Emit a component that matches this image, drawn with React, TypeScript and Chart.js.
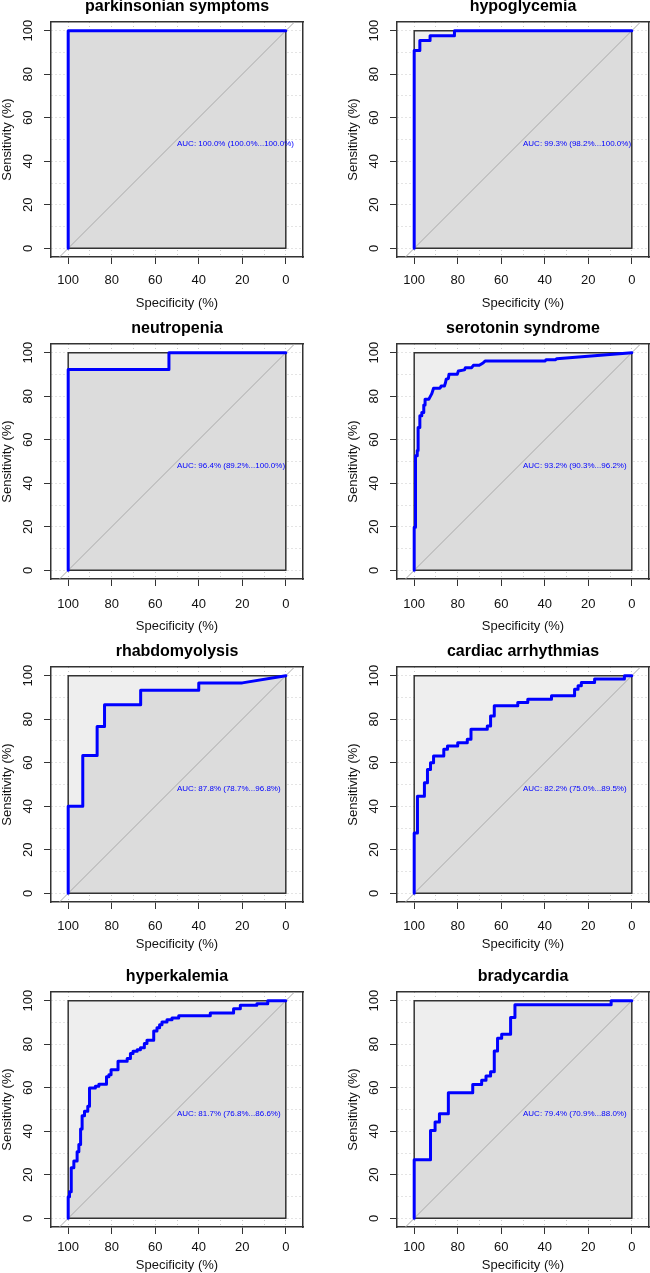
import React, { useEffect, useRef } from 'react';
import { Chart, registerables } from 'chart.js';

Chart.register(...registerables);

// ---------------- data ----------------
const TITLES = [
  'parkinsonian symptoms',
  'hypoglycemia',
  'neutropenia',
  'serotonin syndrome',
  'rhabdomyolysis',
  'cardiac arrhythmias',
  'hyperkalemia',
  'bradycardia',
];

const AUC_VALUES = [100.0, 99.3, 96.4, 93.2, 87.8, 82.2, 81.7, 79.4];
const AUC_CI_LOW = [100.0, 98.2, 89.2, 90.3, 78.7, 75.0, 76.8, 70.9];
const AUC_CI_HIGH = [100.0, 100.0, 100.0, 96.2, 96.8, 89.5, 86.6, 88.0];

const PARKINSONIAN_SPEC = [100, 100, 0];
const PARKINSONIAN_SENS = [0, 100, 100];

const HYPOGLYCEMIA_SPEC = [100, 100, 97.4, 97.4, 92.7, 92.7, 81.5, 81.5, 0];
const HYPOGLYCEMIA_SENS = [0, 90.9, 90.9, 95.5, 95.5, 97.7, 97.7, 100, 100];

const NEUTROPENIA_SPEC = [100, 100, 53.7, 53.7, 0];
const NEUTROPENIA_SENS = [0, 92.3, 92.3, 100, 100];

const SEROTONIN_SPEC = [
  100, 100, 99.4, 99.4, 98.6, 98.6, 98.2, 98.2, 97.4, 97.4,
  96.5, 96.5, 95.6, 95.6, 95.0, 95.0, 93.3, 92.7, 91.9, 91.1,
  88.1, 87.6, 86.1, 85.6, 85.3, 84.3, 84.0, 80.2, 79.7, 76.9,
  76.5, 73.6, 72.8, 70.1, 69.3, 68.2, 67.3, 39.8, 39.4, 35.0,
  34.5, 0,
];
const SEROTONIN_SENS = [
  0, 19.8, 19.8, 52.7, 52.7, 55.0, 55.0, 65.6, 65.6, 71.0,
  71.0, 72.5, 72.5, 76.0, 76.0, 78.6, 78.6, 79.7, 81.2, 83.7,
  83.7, 84.7, 84.7, 86.3, 87.8, 88.1, 90.1, 90.1, 91.6, 92.1,
  93.1, 93.1, 94.2, 94.2, 94.7, 95.4, 96.2, 96.2, 96.8, 96.8,
  97.2, 100,
];

const RHABDO_SPEC = [100, 100, 93.3, 93.3, 86.7, 86.7, 83.3, 83.3, 66.7, 66.7, 40.0, 40.0, 20.0, 0];
const RHABDO_SENS = [0, 40.0, 40.0, 63.3, 63.3, 76.7, 76.7, 86.7, 86.7, 93.3, 93.3, 96.7, 96.7, 100];

const CARDIAC_SPEC = [
  100, 100, 98.5, 98.5, 95.3, 95.3, 93.9, 93.9, 92.5, 92.5,
  91.1, 91.1, 86.4, 86.4, 84.7, 84.7, 80.0, 80.0, 75.6, 75.6,
  73.9, 73.9, 66.4, 66.4, 64.9, 64.9, 63.2, 63.2, 52.4, 52.4,
  47.8, 47.8, 36.9, 36.9, 26.3, 26.3, 24.7, 24.7, 23.2, 23.2,
  17.1, 17.1, 3.4, 3.4, 0,
];
const CARDIAC_SENS = [
  0, 27.7, 27.7, 44.6, 44.6, 50.8, 50.8, 56.9, 56.9, 60.0,
  60.0, 63.1, 63.1, 66.2, 66.2, 67.7, 67.7, 69.2, 69.2, 70.8,
  70.8, 75.4, 75.4, 76.9, 76.9, 81.5, 81.5, 86.2, 86.2, 87.7,
  87.7, 89.2, 89.2, 90.8, 90.8, 93.8, 93.8, 95.4, 95.4, 96.9,
  96.9, 98.5, 98.5, 100, 100,
];

const HYPERKALEMIA_SPEC = [
  100, 100, 99.4, 99.4, 98.6, 98.6, 97.4, 97.4, 95.9, 95.9,
  95.1, 95.1, 94.3, 94.3, 93.6, 93.6, 92.5, 92.5, 91.0, 91.0,
  90.2, 90.2, 87.5, 87.5, 85.9, 85.9, 82.4, 82.4, 81.3, 81.3,
  80.3, 80.3, 77.1, 77.1, 72.9, 72.9, 71.4, 71.4, 70.2, 70.2,
  68.3, 68.3, 66.8, 66.8, 65.0, 65.0, 63.8, 63.8, 60.7, 60.7,
  59.2, 59.2, 58.0, 58.0, 56.9, 56.9, 54.6, 54.6, 52.3, 52.3,
  49.2, 49.2, 34.7, 34.7, 24.0, 24.0, 20.9, 20.9, 13.3, 13.3,
  8.3, 8.3, 0,
];
const HYPERKALEMIA_SENS = [
  0, 9.9, 9.9, 12.2, 12.2, 23.2, 23.2, 26.3, 26.3, 30.6,
  30.6, 33.9, 33.9, 41.0, 41.0, 47.1, 47.1, 49.2, 49.2, 51.5,
  51.5, 59.9, 59.9, 60.7, 60.7, 61.6, 61.6, 65.0, 65.0, 66.0,
  66.0, 68.3, 68.3, 72.2, 72.2, 73.4, 73.4, 75.7, 75.7, 76.8,
  76.8, 77.5, 77.5, 78.4, 78.4, 80.3, 80.3, 81.8, 81.8, 86.1,
  86.1, 87.6, 87.6, 89.0, 89.0, 90.2, 90.2, 91.3, 91.3, 92.0,
  92.0, 93.1, 93.1, 94.3, 94.3, 96.3, 96.3, 97.9, 97.9, 98.6,
  98.6, 100, 100,
];

const BRADYCARDIA_SPEC = [
  100, 100, 92.5, 92.5, 90.4, 90.4, 88.4, 88.4, 84.3, 84.3,
  73.1, 73.1, 69.0, 69.0, 67.0, 67.0, 64.9, 64.9, 63.2, 63.2,
  61.7, 61.7, 59.8, 59.8, 55.7, 55.7, 53.7, 53.7, 9.5, 9.5, 0,
];
const BRADYCARDIA_SENS = [
  0, 26.9, 26.9, 40.4, 40.4, 44.2, 44.2, 48.1, 48.1, 57.7,
  57.7, 61.5, 61.5, 63.5, 63.5, 65.4, 65.4, 67.3, 67.3, 76.9,
  76.9, 82.7, 82.7, 84.6, 84.6, 92.3, 92.3, 98.1, 98.1, 100, 100,
];

const SPECS = [
  PARKINSONIAN_SPEC, HYPOGLYCEMIA_SPEC, NEUTROPENIA_SPEC, SEROTONIN_SPEC,
  RHABDO_SPEC, CARDIAC_SPEC, HYPERKALEMIA_SPEC, BRADYCARDIA_SPEC,
];
const SENSES = [
  PARKINSONIAN_SENS, HYPOGLYCEMIA_SENS, NEUTROPENIA_SENS, SEROTONIN_SENS,
  RHABDO_SENS, CARDIAC_SENS, HYPERKALEMIA_SENS, BRADYCARDIA_SENS,
];

const AXIS_TICKS = [0, 10, 20, 30, 40, 50, 60, 70, 80, 90, 100];
const LABELED_TICKS = [0, 20, 40, 60, 80, 100];

// reference shapes
const BOX_SPEC = [100, 100, 0, 0, 100];
const BOX_SENS = [0, 100, 100, 0, 0];
const MAX_AUC_SPEC = [100, 0];
const MAX_AUC_SENS = [100, 100];
const IDENTITY_SPEC = [112, -12];
const IDENTITY_SENS = [-12, 112];
const AUC_LABEL_AT = 50;

// ---------------- style / layout ----------------
const X_MIN = -7.9;
const X_MAX = 107.9;
const Y_MIN = -4;
const Y_MAX = 104;

const FONT = '"Liberation Sans", Arial, Helvetica, sans-serif';
const BLUE = '#0000ff';
const FRAME_COLOR = '#333333';
const GRID_COLOR = '#c8c8c8';

const FRAME_W = 252;
const FRAME_H = 235;
const SIDE = 60;
const TOP = 30;
const BOTTOM = 60;
const TITLE_LINE = 16 * 1.2;

const COL_FRAME_LEFT = [51, 397];
const ROW_LAYOUT = [
  { frameTop: 22, titlePad: 5.0, tickPad: 8.2, xTitlePad: 5.9 },
  { frameTop: 344, titlePad: 5.4, tickPad: 10.2, xTitlePad: 4.9 },
  { frameTop: 667, titlePad: 5.1, tickPad: 9.2, xTitlePad: 9.9 },
  { frameTop: 992, titlePad: 5.0, tickPad: 5.5, xTitlePad: 13.5 },
];

const pct = (v: number) => v.toFixed(1) + '%';

const aucLabelPlugin = {
  id: 'aucLabel',
  afterDatasetsDraw(chart: any, _args: any, opts: any) {
    const { ctx, scales } = chart;
    const x = scales.x.getPixelForValue(AUC_LABEL_AT);
    const y = scales.y.getPixelForValue(AUC_LABEL_AT);
    ctx.save();
    ctx.font = `8px ${FONT}`;
    ctx.fillStyle = BLUE;
    ctx.textAlign = 'left';
    ctx.textBaseline = 'top';
    ctx.fillText(opts.text, x, y);
    ctx.restore();
  },
};

function toPoints(xs: number[], ys: number[]) {
  return xs.map((x, i) => ({ x, y: ys[i] }));
}

function RocPanel({ index }: { index: number }) {
  const ref = useRef<HTMLCanvasElement>(null);
  const col = index % 2;
  const row = Math.floor(index / 2);
  const lay = ROW_LAYOUT[row];
  const left = COL_FRAME_LEFT[col] - SIDE;
  const top = lay.frameTop - TOP;
  const W = FRAME_W + 2 * SIDE;
  const H = TOP + FRAME_H + BOTTOM;

  useEffect(() => {
    const roc = toPoints(SPECS[index], SENSES[index]);
    const tickColor = (c: any) =>
      c.tick && LABELED_TICKS.includes(c.tick.value) ? FRAME_COLOR : 'rgba(0,0,0,0)';
    const labelCb = (v: any) => (LABELED_TICKS.includes(Number(v)) ? String(v) : '');
    const setTicks = (s: any) => {
      s.ticks = AXIS_TICKS.map((v) => ({ value: v }));
    };
    const common = {
      type: 'linear',
      grid: {
        color: GRID_COLOR,
        lineWidth: 1,
        drawTicks: true,
        tickLength: 7,
        tickWidth: 1,
        tickColor,
        tickBorderDash: [],
        borderDash: [1, 3],
      },
      border: { display: true, color: FRAME_COLOR, width: 1.5, dash: [1, 3] },
    };
    const hidden = {
      type: 'linear',
      grid: { display: false, drawTicks: false },
      ticks: { display: false },
      border: { display: true, color: FRAME_COLOR, width: 1.5 },
    };

    const chart = new Chart(ref.current as HTMLCanvasElement, {
      type: 'line',
      data: {
        datasets: [
          {
            label: 'roc',
            data: roc,
            borderColor: BLUE,
            borderWidth: 3,
            borderJoinStyle: 'round',
            borderCapStyle: 'round',
            fill: false,
            order: 1,
            xAxisID: 'x',
            yAxisID: 'y',
          },
          {
            label: 'identity',
            data: toPoints(IDENTITY_SPEC, IDENTITY_SENS),
            borderColor: '#a9a9a9',
            borderWidth: 1,
            fill: false,
            order: 2,
            xAxisID: 'x',
            yAxisID: 'y',
          },
          {
            label: 'box',
            data: toPoints(BOX_SPEC, BOX_SENS),
            borderColor: FRAME_COLOR,
            borderWidth: 1.5,
            fill: false,
            order: 3,
            xAxisID: 'x',
            yAxisID: 'y',
          },
          {
            label: 'auc',
            data: roc,
            borderColor: 'rgba(0,0,0,0)',
            borderWidth: 0,
            backgroundColor: '#dcdcdc',
            fill: 'origin',
            order: 4,
            xAxisID: 'x',
            yAxisID: 'y',
          },
          {
            label: 'maxauc',
            data: toPoints(MAX_AUC_SPEC, MAX_AUC_SENS),
            borderColor: 'rgba(0,0,0,0)',
            borderWidth: 0,
            backgroundColor: '#eeeeee',
            fill: 'origin',
            order: 5,
            xAxisID: 'x',
            yAxisID: 'y',
          },
        ],
      },
      options: {
        animation: false,
        responsive: false,
        devicePixelRatio: 1,
        events: [],
        layout: { padding: 0 },
        elements: { point: { radius: 0, hitRadius: 0 }, line: { tension: 0 } },
        plugins: {
          legend: { display: false },
          tooltip: { enabled: false },
          title: {
            display: true,
            text: TITLES[index],
            color: '#000',
            font: { family: FONT, size: 16, weight: 'bold', lineHeight: 1.2 },
            padding: { top: lay.titlePad, bottom: TOP - TITLE_LINE - lay.titlePad },
          },
          aucLabel: {
            text: `AUC: ${pct(AUC_VALUES[index])} (${pct(AUC_CI_LOW[index])}...${pct(AUC_CI_HIGH[index])})`,
          },
        },
        scales: {
          x: {
            ...common,
            position: 'bottom',
            reverse: true,
            min: X_MIN,
            max: X_MAX,
            afterBuildTicks: setTicks,
            afterFit: (s: any) => {
              s.height = BOTTOM;
            },
            ticks: {
              autoSkip: false,
              minRotation: 0,
              maxRotation: 0,
              padding: lay.tickPad,
              color: '#111',
              font: { family: FONT, size: 13 },
              callback: labelCb,
            },
            title: {
              display: true,
              text: 'Specificity (%)',
              color: '#111',
              font: { family: FONT, size: 13 },
              padding: { top: 0, bottom: lay.xTitlePad },
            },
          },
          y: {
            ...common,
            position: 'left',
            min: Y_MIN,
            max: Y_MAX,
            afterBuildTicks: setTicks,
            afterFit: (s: any) => {
              s.width = SIDE;
            },
            ticks: {
              autoSkip: false,
              minRotation: 90,
              maxRotation: 90,
              crossAlign: 'center',
              padding: 4.6,
              color: '#111',
              font: { family: FONT, size: 13 },
              callback: labelCb,
            },
            title: {
              display: true,
              text: 'Sensitivity (%)',
              color: '#111',
              font: { family: FONT, size: 13 },
              padding: { top: 8.2, bottom: 0 },
            },
          },
          x2: {
            ...hidden,
            position: 'top',
            reverse: true,
            min: X_MIN,
            max: X_MAX,
            afterFit: (s: any) => {
              s.height = 0;
            },
          },
          y2: {
            ...hidden,
            position: 'right',
            min: Y_MIN,
            max: Y_MAX,
            afterFit: (s: any) => {
              s.width = SIDE;
            },
          },
        },
      } as any,
      plugins: [aucLabelPlugin as any],
    } as any);
    return () => chart.destroy();
  }, [index]);

  return (
    <canvas
      ref={ref}
      width={W}
      height={H}
      style={{ position: 'absolute', left, top, width: W, height: H, display: 'block' }}
    />
  );
}

export default function App() {
  return (
    <div
      style={{
        position: 'absolute',
        left: 0,
        top: 0,
        width: 650,
        height: 1273,
        overflow: 'hidden',
        background: '#ffffff',
      }}
    >
      {TITLES.map((t, i) => (
        <RocPanel key={t} index={i} />
      ))}
    </div>
  );
}
